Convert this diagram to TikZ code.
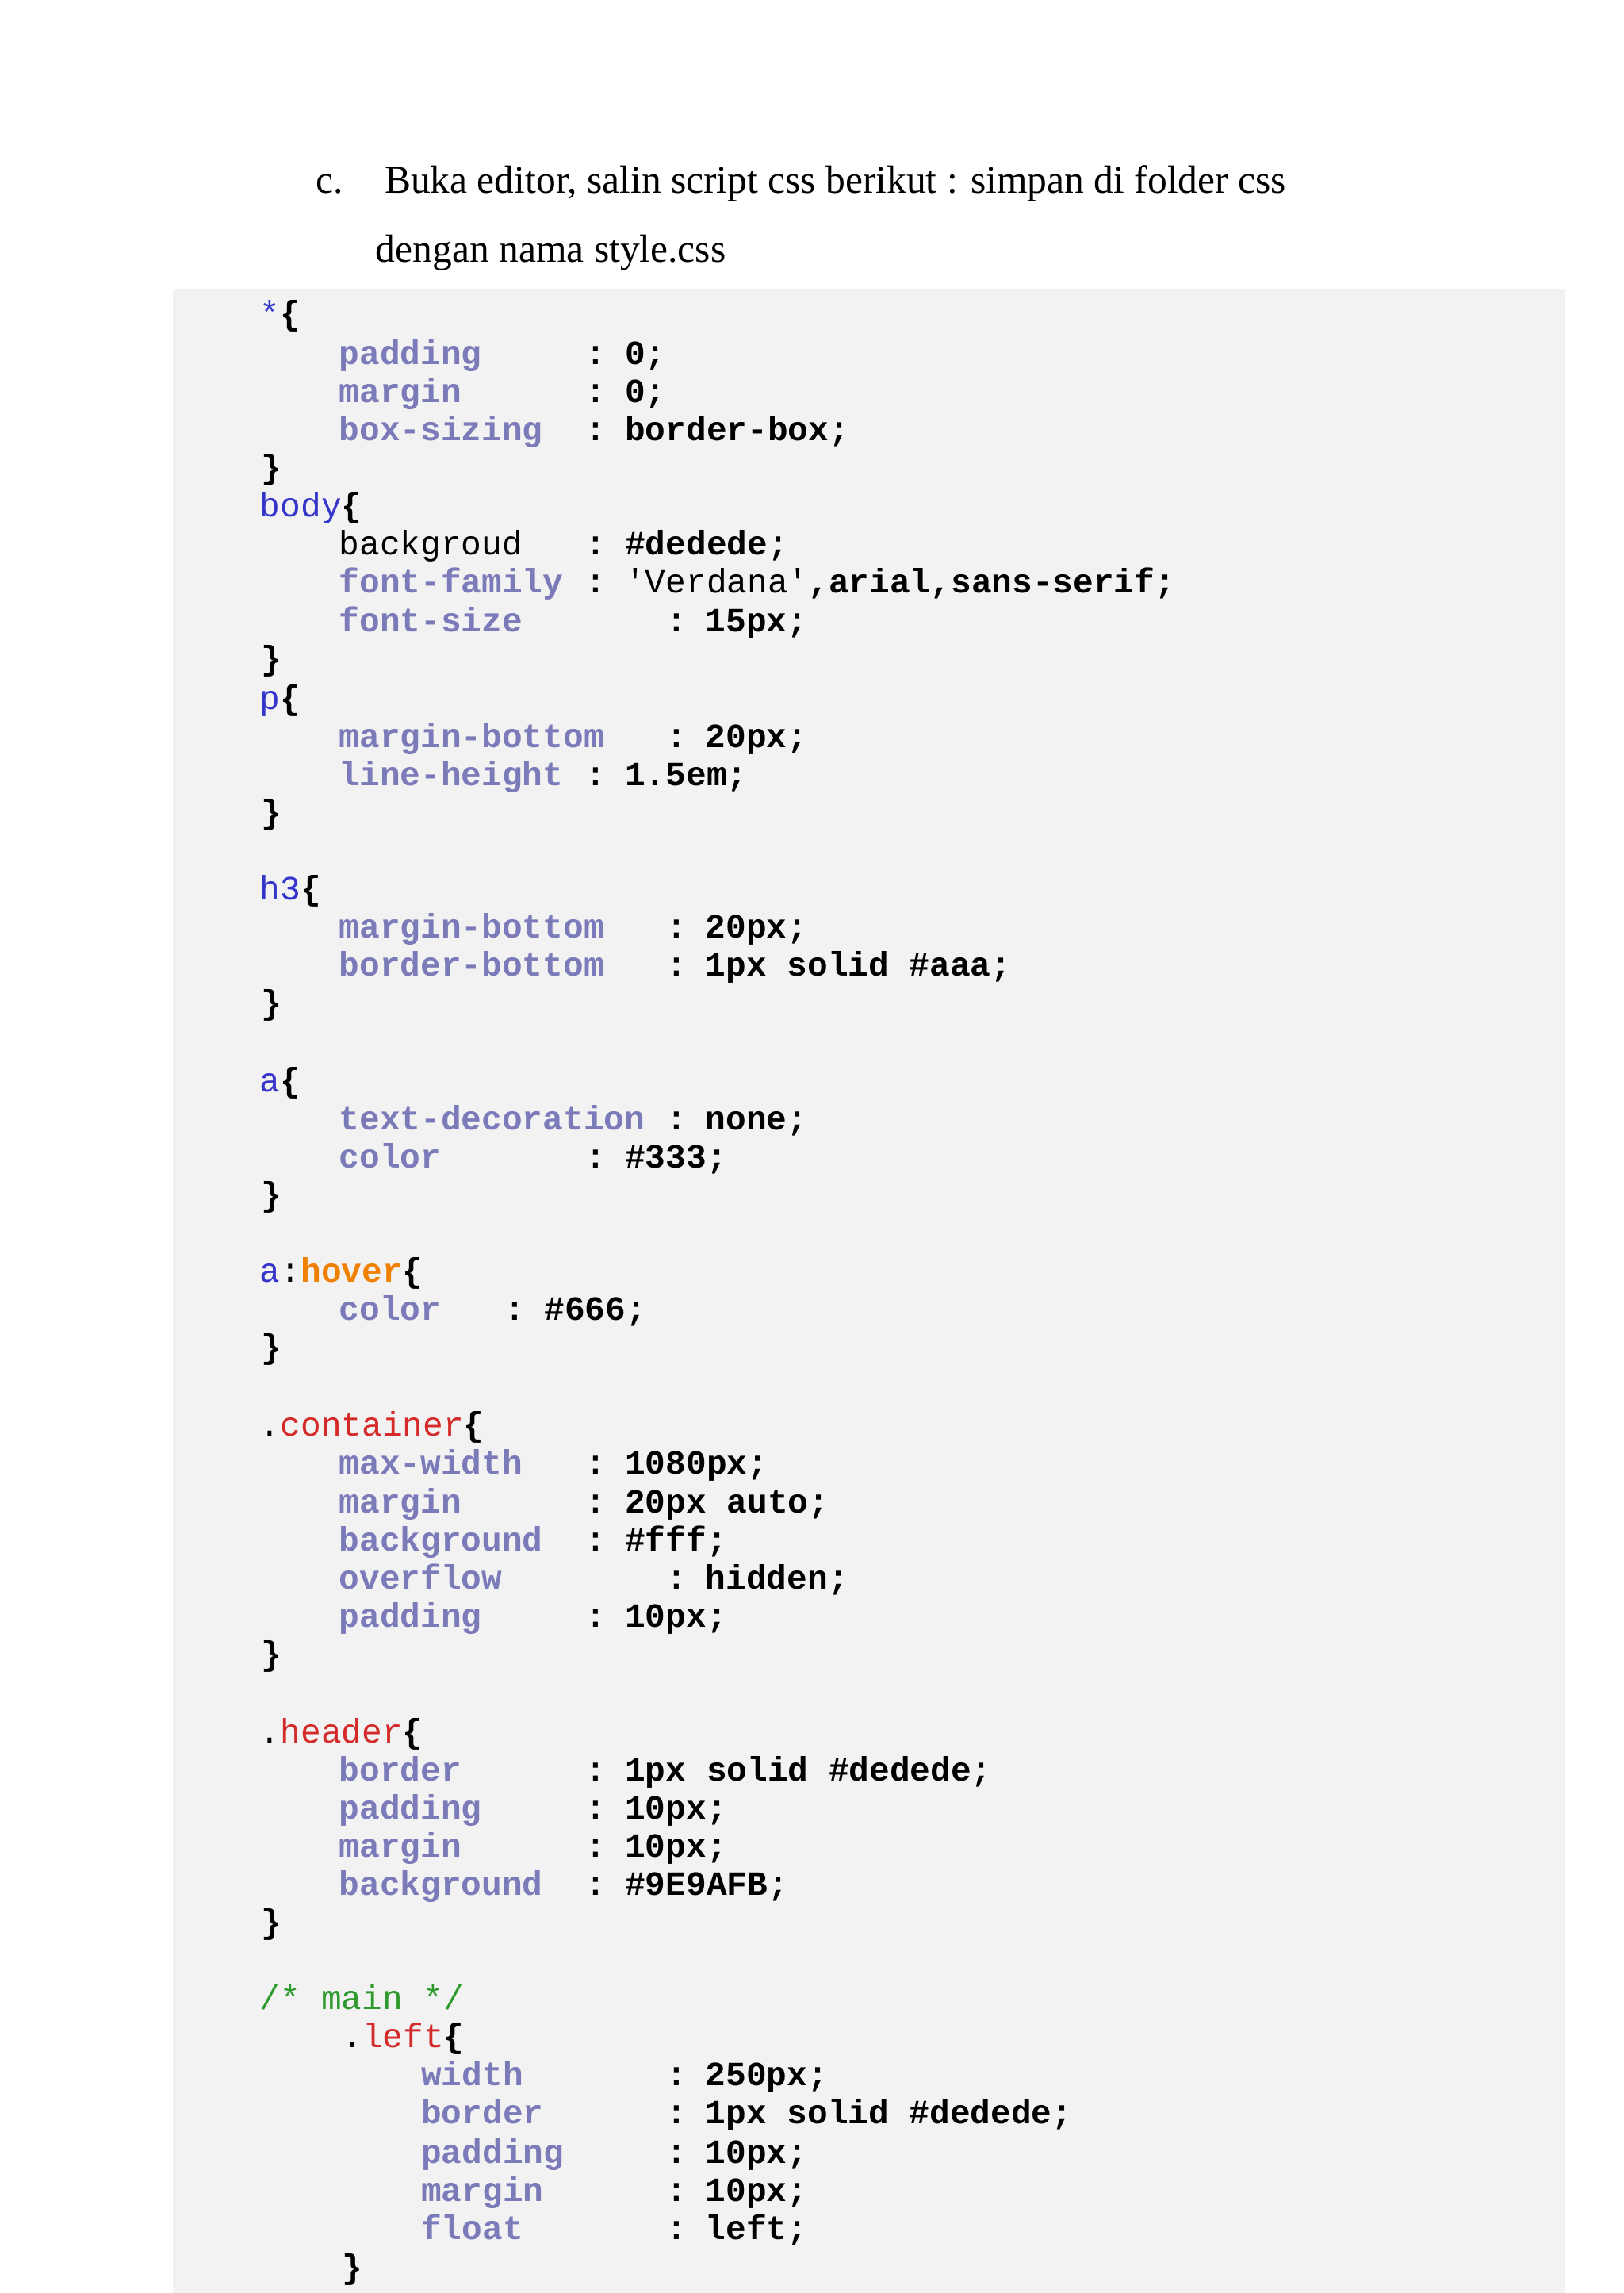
\documentclass[tikz,border=0pt]{standalone}
\usepackage{fontspec}
\setmainfont{Liberation Serif}
\setmonofont{Liberation Mono}
\usetikzlibrary{positioning}
\definecolor{boxgray}{HTML}{F2F2F2}
\definecolor{propColor}{HTML}{7B7BBA}
\definecolor{selColor}{HTML}{3535CC}
\definecolor{hovColor}{HTML}{F08000}
\definecolor{clsColor}{HTML}{D42A2A}
\definecolor{cmtColor}{HTML}{2E9A2E}
\tikzset{
  code/.style={inner sep=0pt, anchor=mid west, font=\ttfamily\fontsize{11.5}{13}\selectfont},
  prop/.style={code, text=propColor, font=\ttfamily\bfseries\fontsize{11.5}{13}\selectfont},
  val/.style={code, font=\ttfamily\bfseries\fontsize{11.5}{13}\selectfont},
  prose/.style={inner sep=0pt, anchor=mid west, font=\fontsize{13.3}{15}\selectfont}
}
% one declaration: y, key, colon x, value
\newcommand{\decl}[5][231]{%
  \node[prop] at (#1,#2) {#3};
  \node[val] at (#4-5,#2) {:};
  \node[val] at (#4+22,#2) {#5};}
\newcommand{\plaindecl}[5][231]{%
  \node[code] at (#1,#2) {#3};
  \node[val] at (#4-5,#2) {:};
  \node[val] at (#4+22,#2) {#5};}
\newcommand{\closer}[2][183]{\node[val] at (#1-5,#2) {\}};}

\begin{document}
\begin{tikzpicture}[x=0.4965pt,y=-0.4965pt]
		\useasboundingbox (0,0) rectangle (1107.6,1563.9);
		\fill[boxgray] (118,197) rectangle (1068,1563.9);
		
		\node[prose] (item) at (215,127) {c.};
		\node[prose] (line1) at (262,127) {Buka editor, salin script css berikut : simpan di folder css};
		\node[prose] (line2) at (256,174) {dengan nama style.css};
		
		% universal
		\node[code] (all) at (177,217) {\textcolor{selColor}{*}\textbf{\{}};
		\decl{244}{padding}{404}{0;}
		\decl{270}{margin}{404}{0;}
		\decl{296}{box-sizing}{404}{border-box;}
		\closer{322}
		
		% body
		\node[code] (body) at (177,348) {\textcolor{selColor}{body}\textbf{\{}};
		\plaindecl{374}{backgroud}{404}{\#dedede;}
		\node[prop] at (231,400) {font-family};
		\node[val] at (399,400) {:};
		\node[code] at (426,400) {'Verdana'\textbf{,arial,sans-serif;}};
		\decl{426}{font-size}{459}{15px;}
		\closer{452}
		
		% p
		\node[code] (para) at (177,479) {\textcolor{selColor}{p}\textbf{\{}};
		\decl{505}{margin-bottom}{459}{20px;}
		\decl{531}{line-height}{404}{1.5em;}
		\closer{557}
		
		% h3
		\node[code] (hthree) at (177,609) {\textcolor{selColor}{h3}\textbf{\{}};
		\decl{635}{margin-bottom}{459}{20px;}
		\decl{661}{border-bottom}{459}{1px solid \#aaa;}
		\closer{687}
		
		% a
		\node[code] (link) at (177,740) {\textcolor{selColor}{a}\textbf{\{}};
		\decl{766}{text-decoration}{459}{none;}
		\decl{792}{color}{404}{\#333;}
		\closer{818}
		
		\node[code] (hover) at (177,870) {\textcolor{selColor}{a}:\textcolor{hovColor}{\textbf{hover}}\textbf{\{}};
		\decl{896}{color}{349}{\#666;}
		\closer{922}
		
		% container
		\node[code] (cont) at (177,975) {.\textcolor{clsColor}{container}\textbf{\{}};
		\decl{1001}{max-width}{404}{1080px;}
		\decl{1027}{margin}{404}{20px auto;}
		\decl{1053}{background}{404}{\#fff;}
		\decl{1079}{overflow}{459}{hidden;}
		\decl{1105}{padding}{404}{10px;}
		\closer{1131}
		
		% header
		\node[code] (head) at (177,1184) {.\textcolor{clsColor}{header}\textbf{\{}};
		\decl{1210}{border}{404}{1px solid \#dedede;}
		\decl{1236}{padding}{404}{10px;}
		\decl{1262}{margin}{404}{10px;}
		\decl{1288}{background}{404}{\#9E9AFB;}
		\closer{1314}
		
		\node[code, text=cmtColor] (cmt) at (177,1366) {/* main */};
		\node[code] (left) at (233,1392) {.\textcolor{clsColor}{left}\textbf{\{}};
		\decl[287]{1418}{width}{459}{250px;}
		\decl[287]{1444}{border}{459}{1px solid \#dedede;}
		\decl[287]{1471}{padding}{459}{10px;}
		\decl[287]{1497}{margin}{459}{10px;}
		\decl[287]{1523}{float}{459}{left;}
		\closer[238]{1549}
		
		\end{tikzpicture}
\end{document}
